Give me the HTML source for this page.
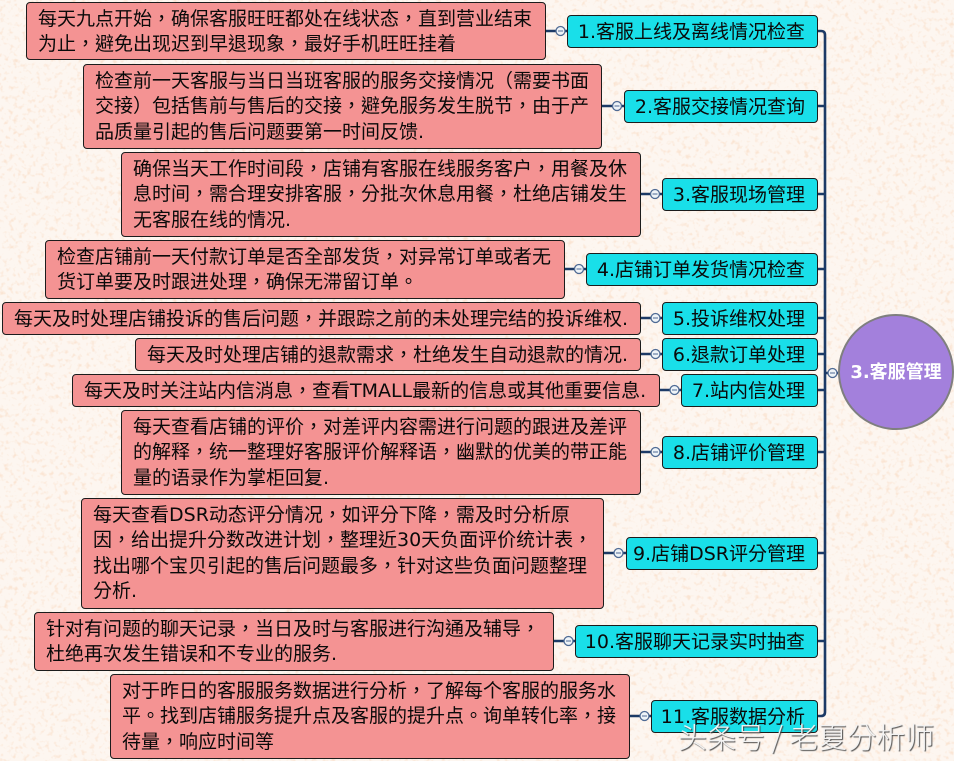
<!DOCTYPE html>
<html lang="zh-Hant"><head><meta charset="utf-8"><style>
html,body{margin:0;padding:0}
body{width:954px;height:761px;position:relative;overflow:hidden;background:#fdf6f0;font-family:"DejaVu Sans","Noto Sans CJK TC",sans-serif;color:#0a0a0a}
.p,.c{position:absolute;box-sizing:border-box;border:1.5px solid #1c1c1c;border-radius:4px;font-size:19px;white-space:nowrap}
.p{background:#f49393;padding:4px 0 0 11px;line-height:25.3px}
.c{background:#19dfe9;text-align:right;padding-right:12px;line-height:32px}
.t{position:absolute;left:838px;top:314px;width:116px;height:116px;box-sizing:border-box;border:2px solid #7f7f7f;border-radius:50%;background:#a380dc;color:#fff;font-size:18px;font-weight:bold;text-align:center;line-height:114px;white-space:nowrap}
svg{position:absolute;left:0;top:0}
.w{position:absolute;left:678px;top:715px;font-size:29px;color:#f2f2f2;text-shadow:1px 1px 1px #444;white-space:nowrap;font-family:"Noto Sans CJK SC",sans-serif;font-weight:300}
</style></head><body>
<svg width="954" height="761" fill="none">
<defs><filter id="n" x="0" y="0" width="100%" height="100%">
<feTurbulence type="fractalNoise" baseFrequency="0.22" numOctaves="2" seed="7"/>
<feColorMatrix values="0 0 0 0 0.96  0 0 0 0 0.78  0 0 0 0 0.65  3.5 0 0 0 -1.85"/>
</filter></defs>
<rect width="954" height="761" filter="url(#n)"/>
<g stroke="#1c3a66" stroke-width="2.6">
<path d="M818 31h3q4 0 4 4V712q0 4-4 4h-3"/>
<path d="M818 106h7M818 194h7M818 269h7M818 318h7M818 354h7M818 390h7M818 452h7M818 553h7M818 641h7"/>
<path d="M546 31h21M602 106h22M640 194h22M564 269h22M640 318h22M640 354h22M660 390h21M640 452h22M604 553h22M553 641h22M629 716h22M825 373h13"/>
</g>
<g fill="#eef3f7" stroke="#4e6a94" stroke-width="1.3">
<circle cx="560.500" cy="31" r="4.500"/><circle cx="617" cy="106" r="4.500"/><circle cx="655" cy="194" r="4.500"/><circle cx="579" cy="269" r="4.500"/><circle cx="655.500" cy="318" r="4.500"/><circle cx="655.500" cy="354" r="4.500"/><circle cx="674.500" cy="390" r="4.500"/><circle cx="655.500" cy="452" r="4.500"/><circle cx="618.500" cy="553" r="4.500"/><circle cx="568.500" cy="641" r="4.500"/><circle cx="644.500" cy="716" r="4.500"/><circle cx="832.500" cy="373" r="4.500"/>
</g>
<path stroke="#4e6a94" d="M558 31h5M614.500 106h5M652.500 194h5M576.500 269h5M653 318h5M653 354h5M672 390h5M653 452h5M616 553h5M566 641h5M642 716h5M830 373h5"/>
</svg>
<div class="p" style="left:26px;top:2px;width:520px;height:58px">每天九点开始，确保客服旺旺都处在线状态，直到营业结束<br>为止，避免出现迟到早退现象，最好手机旺旺挂着</div>
<div class="p" style="left:83px;top:64px;width:519px;height:85px">检查前一天客服与当日当班客服的服务交接情况（需要书面<br>交接）包括售前与售后的交接，避免服务发生脱节，由于产<br>品质量引起的售后问题要第一时间反馈.</div>
<div class="p" style="left:121px;top:152px;width:520px;height:85px">确保当天工作时间段，店铺有客服在线服务客户，用餐及休<br>息时间，需合理安排客服，分批次休息用餐，杜绝店铺发生<br>无客服在线的情况.</div>
<div class="p" style="left:45px;top:240px;width:520px;height:59px">检查店铺前一天付款订单是否全部发货，对异常订单或者无<br>货订单要及时跟进处理，确保无滞留订单。</div>
<div class="p" style="left:2px;top:302px;width:639px;height:33px">每天及时处理店铺投诉的售后问题，并跟踪之前的未处理完结的投诉维权.</div>
<div class="p" style="left:135px;top:338px;width:506px;height:33px">每天及时处理店铺的退款需求，杜绝发生自动退款的情况.</div>
<div class="p" style="left:72px;top:374px;width:588px;height:33px">每天及时关注站内信消息，查看TMALL最新的信息或其他重要信息.</div>
<div class="p" style="left:121px;top:410px;width:520px;height:85px">每天查看店铺的评价，对差评内容需进行问题的跟进及差评<br>的解释，统一整理好客服评价解释语，幽默的优美的带正能<br>量的语录作为掌柜回复.</div>
<div class="p" style="left:81px;top:498px;width:523px;height:111px">每天查看DSR动态评分情况，如评分下降，需及时分析原<br>因，给出提升分数改进计划，整理近30天负面评价统计表，<br>找出哪个宝贝引起的售后问题最多，针对这些负面问题整理<br>分析.</div>
<div class="p" style="left:34px;top:612px;width:520px;height:59px">针对有问题的聊天记录，当日及时与客服进行沟通及辅导，<br>杜绝再次发生错误和不专业的服务.</div>
<div class="p" style="left:110px;top:674px;width:520px;height:85px">对于昨日的客服服务数据进行分析，了解每个客服的服务水<br>平。找到店铺服务提升点及客服的提升点。询单转化率，接<br>待量，响应时间等</div>
<div class="c" style="left:567px;top:15px;width:251px;height:33px">1.客服上线及离线情况检查</div>
<div class="c" style="left:624px;top:90px;width:194px;height:33px">2.客服交接情况查询</div>
<div class="c" style="left:662px;top:178px;width:156px;height:33px">3.客服现场管理</div>
<div class="c" style="left:586px;top:253px;width:232px;height:33px">4.店铺订单发货情况检查</div>
<div class="c" style="left:662px;top:302px;width:156px;height:33px">5.投诉维权处理</div>
<div class="c" style="left:662px;top:338px;width:156px;height:33px">6.退款订单处理</div>
<div class="c" style="left:681px;top:374px;width:137px;height:33px">7.站内信处理</div>
<div class="c" style="left:662px;top:436px;width:156px;height:33px">8.店铺评价管理</div>
<div class="c" style="left:626px;top:537px;width:192px;height:33px">9.店铺DSR评分管理</div>
<div class="c" style="left:575px;top:625px;width:243px;height:33px">10.客服聊天记录实时抽查</div>
<div class="c" style="left:651px;top:700px;width:167px;height:33px">11.客服数据分析</div>
<div class="t">3.客服管理</div>
<div class="w">头条号 / 老夏分析师</div>
</body></html>
